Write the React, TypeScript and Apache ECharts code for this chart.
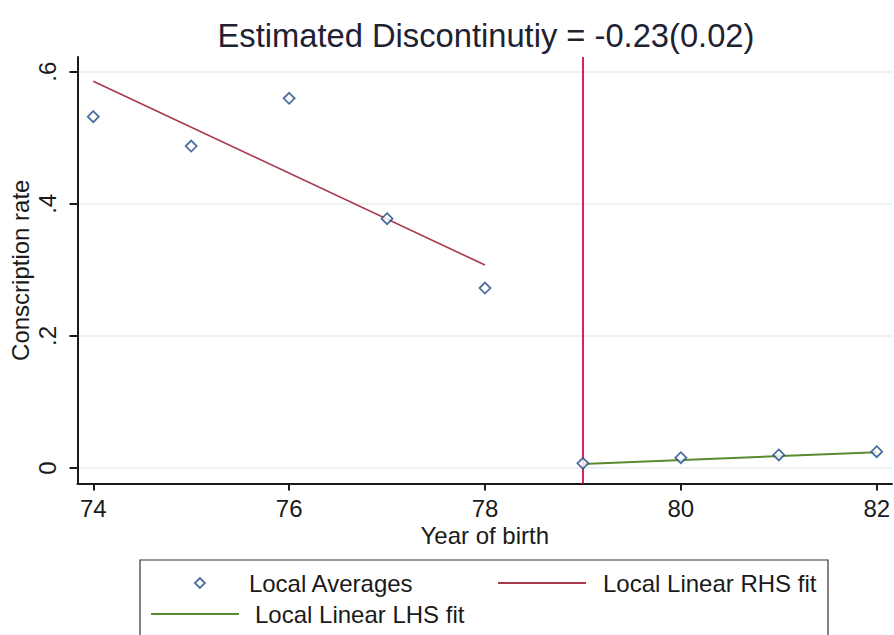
import React, { useEffect, useRef } from 'react';
import * as echarts from 'echarts';

const years = [74, 75, 76, 77, 78, 79, 80, 81, 82];
const localAverages = [0.532, 0.4875, 0.5597, 0.3774, 0.2725, 0.0071, 0.0156, 0.0197, 0.0247];
const rhsFitX = [74, 78];
const rhsFitY = [0.5855, 0.3073];
const lhsFitX = [79, 82];
const lhsFitY = [0.0061, 0.0238];
const cutoff = 79;
const xTicks = [74, 76, 78, 80, 82];
const yTicks = [0, 0.2, 0.4, 0.6];
const yTickLabels = ['0', '.2', '.4', '.6'];
const titleText = 'Estimated Discontinutiy = -0.23(0.02)';
const xTitle = 'Year of birth';
const yTitle = 'Conscription rate';
const seriesNames = ['Local Averages', 'Local Linear RHS fit', 'Local Linear LHS fit'];

const FONT = '"Liberation Sans", Arial, sans-serif';
const INK = '#1a1a1a';
const NAVY = '#1d4b84';
const RED = '#a8394a';
const GREEN = '#5b8a2f';
const CUT = '#dc2352';
const GRIDC = '#e7eef2';

export default function App() {
  const ref = useRef<HTMLDivElement>(null);
  useEffect(() => {
    if (!ref.current) return;
    const chart = echarts.init(ref.current, undefined, { renderer: 'svg' });
    const labelText = { fontFamily: FONT, fontSize: 24, color: INK };
    chart.setOption({
      animation: false,
      backgroundColor: '#ffffff',
      title: {
        text: titleText,
        left: 481,
        top: 14,
        textAlign: 'center',
        textStyle: { fontFamily: FONT, fontSize: 32.7, fontWeight: 'normal', color: '#1e2233' },
      },
      grid: { left: 77.5, right: 2, top: 57, bottom: 151.5 },
      xAxis: {
        type: 'value',
        min: 73.839,
        max: 82.156,
        name: xTitle,
        nameLocation: 'middle',
        nameGap: 40,
        nameMoveOverlap: false,
        nameTextStyle: labelText,
        axisLine: { show: true, onZero: false, lineStyle: { color: INK, width: 2 } },
        axisTick: { show: true, inside: false, length: 7, customValues: xTicks, lineStyle: { color: INK, width: 2 } },
        axisLabel: { ...labelText, margin: 13, customValues: xTicks },
        splitLine: { show: false },
      },
      yAxis: {
        type: 'value',
        min: -0.0235,
        max: 0.6223,
        name: yTitle,
        nameLocation: 'middle',
        nameGap: 45,
        nameRotate: 90,
        nameMoveOverlap: false,
        nameTextStyle: labelText,
        axisLine: { show: true, onZero: false, lineStyle: { color: INK, width: 2 } },
        axisTick: { show: true, inside: false, length: 8, customValues: yTicks, lineStyle: { color: INK, width: 2 } },
        axisLabel: {
          ...labelText,
          margin: 18,
          rotate: 90,
          customValues: yTicks,
          formatter: (v: number) => {
            const i = yTicks.findIndex((t) => Math.abs(t - v) < 1e-9);
            return i >= 0 ? yTickLabels[i] : '';
          },
        },
        splitLine: { show: true, lineStyle: { color: GRIDC, width: 1.5 } },
      },
      legend: [
        {
          data: [{ name: seriesNames[0], icon: 'path://M5,0 L10,5 L5,10 L0,5 Z' }],
          left: 194,
          top: 571,
          padding: 0,
          itemWidth: 88,
          itemHeight: 10,
          itemStyle: { color: '#ffffff', borderColor: NAVY, borderWidth: 1.8 },
          textStyle: labelText,
          selectedMode: false,
        },
        {
          data: [{ name: seriesNames[1], icon: 'rect' }],
          left: 498,
          top: 571,
          padding: 0,
          itemWidth: 88,
          itemHeight: 2,
          itemStyle: { color: RED, borderWidth: 0 },
          textStyle: { ...labelText, padding: [0, 0, 0, 12] },
          selectedMode: false,
        },
        {
          data: [{ name: seriesNames[2], icon: 'rect' }],
          left: 151,
          top: 602,
          padding: 0,
          itemWidth: 88,
          itemHeight: 2,
          itemStyle: { color: GREEN, borderWidth: 0 },
          textStyle: { ...labelText, padding: [0, 0, 0, 11] },
          selectedMode: false,
        },
      ],
      graphic: [
        {
          type: 'rect',
          shape: { x: 140, y: 560, width: 688, height: 90 },
          style: { fill: 'none', stroke: '#333333', lineWidth: 1.2 },
          silent: true,
        },
      ],
      series: [
        {
          name: seriesNames[0],
          type: 'scatter',
          data: years.map((y, i) => [y, localAverages[i]]),
          symbol: 'diamond',
          symbolSize: 11,
          itemStyle: { color: '#ffffff', borderColor: NAVY, borderWidth: 1.8 },
          z: 5,
          markLine: {
            silent: true,
            symbol: ['none', 'none'],
            label: { show: false },
            lineStyle: { color: CUT, width: 2, type: 'solid' },
            data: [{ xAxis: cutoff }],
          },
        },
        {
          name: seriesNames[1],
          type: 'line',
          data: rhsFitX.map((x, i) => [x, rhsFitY[i]]),
          symbol: 'none',
          lineStyle: { color: RED, width: 1.6 },
          itemStyle: { color: RED },
          z: 3,
        },
        {
          name: seriesNames[2],
          type: 'line',
          data: lhsFitX.map((x, i) => [x, lhsFitY[i]]),
          symbol: 'none',
          lineStyle: { color: GREEN, width: 2 },
          itemStyle: { color: GREEN },
          z: 3,
        },
      ],
    });
    return () => chart.dispose();
  }, []);
  return <div ref={ref} style={{ width: 894, height: 635, position: 'absolute', left: 0, top: 0 }} />;
}
